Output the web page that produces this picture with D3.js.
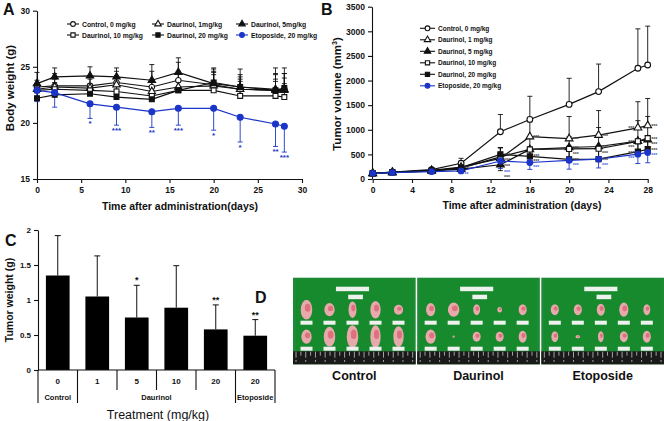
<!DOCTYPE html>
<html><head><meta charset="utf-8">
<script src="https://cdn.jsdelivr.net/npm/d3@7"></script>
<style>
body{margin:0;background:#fff;}
svg{display:block;font-family:"Liberation Sans",Arial,sans-serif;}
</style></head><body>
<svg id="c" width="664" height="421"></svg>
<script>
// ---------- Panel A: body weight ----------
const daysA = [0, 2, 6, 9, 13, 16, 20, 23, 27, 28];
const seriesLabelsA = ["Control, 0 mg/kg", "Daurinol, 1mg/kg", "Daurinol, 5mg/kg", "Daurinol, 10 mg/kg", "Daurinol, 20 mg/kg", "Etoposide, 20 mg/kg"];
const bwControl = [23.2, 23.3, 23.3, 23.6, 23.2, 23.8, 23.4, 23.0, 22.9, 23.0];
const bwD1 = [23.0, 23.2, 23.1, 23.4, 22.8, 23.2, 23.3, 23.0, 22.9, 22.9];
const bwD5 = [23.5, 24.1, 24.2, 24.1, 23.8, 24.5, 23.5, 23.2, 23.0, 23.0];
const bwD10 = [22.9, 23.0, 22.9, 22.8, 22.4, 22.9, 22.9, 22.4, 22.4, 22.3];
const bwD20 = [22.2, 22.5, 22.6, 22.3, 22.1, 22.9, 23.6, 23.2, 22.9, 23.1];
const bwEto = [22.9, 22.7, 21.7, 21.4, 21.0, 21.3, 21.3, 20.5, 19.9, 19.7];
const bwControlErr = [0.6, 1.1, 0.9, 1.0, 1.4, 1.6, 1.4, 0.9, 1.5, 1.4];
const bwD1Err = [0.5, 0.7, 0.8, 0.8, 1.0, 1.4, 1.0, 1.3, 1.4, 1.5];
const bwD5Err = [1.0, 0.8, 0.8, 0.8, 1.4, 1.3, 1.0, 1.6, 1.9, 1.9];
const bwD10Err = [0.4, 0.6, 0.6, 0.6, 0.9, 0.8, 2.0, 1.3, 1.3, 1.2];
const bwD20Err = [0.5, 0.6, 0.6, 0.7, 0.8, 0.7, 1.0, 0.9, 1.0, 0.9];
const bwEtoErr = [1.0, 1.3, 1.3, 1.6, 1.4, 1.5, 1.95, 2.2, 2.0, 2.3];
const bwEtoStars = ["", "", "*", "***", "**", "***", "*", "*", "**", "***"];
const ticksA_x = [0, 5, 10, 15, 20, 25, 30];
const ticksA_y = [15, 20, 25, 30];

// ---------- Panel B: tumor volume ----------
const daysB = [0, 2, 6, 9, 13, 16, 20, 23, 27, 28];
const seriesLabelsB = ["Control, 0 mg/kg", "Daurinol, 1 mg/kg", "Daurinol, 5 mg/kg", "Daurinol, 10 mg/kg", "Daurinol, 20 mg/kg", "Etoposide, 20 mg/kg"];
const tvControl = [115, 140, 190, 320, 960, 1210, 1515, 1775, 2250, 2315];
const tvD1 = [115, 135, 175, 240, 420, 860, 820, 890, 1040, 1085];
const tvD5 = [115, 135, 165, 200, 290, 600, 640, 660, 770, 800];
const tvD10 = [115, 140, 170, 220, 450, 600, 610, 615, 765, 830];
const tvD20 = [115, 135, 160, 230, 500, 460, 400, 405, 555, 605];
const tvEto = [115, 130, 150, 165, 365, 335, 380, 405, 505, 540];
const tvControlErr = [15, 20, 40, 100, 350, 470, 530, 560, 800, 790];
const tvD1Err = [15, 20, 30, 50, 220, 300, 450, 500, 530, 550];
const tvD5Err = [15, 20, 30, 50, 120, 250, 250, 250, 260, 270];
const tvD10Err = [15, 20, 30, 50, 180, 220, 250, 430, 420, 440];
const tvD20Err = [15, 20, 30, 40, 140, 150, 180, 200, 250, 250];
const tvEtoErr = [15, 20, 25, 40, 150, 140, 180, 180, 190, 210];
const tvD1Stars = ["", "", "", "", "***", "***", "***", "***", "***", "***"];
const tvD5Stars = ["", "", "", "", "***", "***", "***", "***", "***", "***"];
const tvD10Stars = ["", "", "", "", "***", "***", "***", "***", "***", "***"];
const tvD20Stars = ["", "", "", "**", "***", "***", "***", "***", "***", "***"];
const tvEtoStars = ["", "", "", "**", "***", "***", "***", "***", "***", "***"];
const ticksB_x = [0, 4, 8, 12, 16, 20, 24, 28];
const ticksB_y = [0, 500, 1000, 1500, 2000, 2500, 3000, 3500];

// ---------- Panel C: tumor weight ----------
const twDose = ["0", "1", "5", "10", "20", "20"];
const twMean = [1.35, 1.05, 0.75, 0.89, 0.58, 0.49];
const twErr = [0.57, 0.58, 0.46, 0.60, 0.35, 0.23];
const twStars = ["", "", "*", "", "**", "**"];
const twGroupNames = ["Control", "Daurinol", "Etoposide"];
const twGroupFirst = [0, 1, 5];
const twGroupLast = [0, 4, 5];
const ticksC_y = [0, 0.5, 1, 1.5, 2];

// ---------- Panel D: photos ----------
const photoGroups = ["Control", "Daurinol", "Etoposide"];
const tumorW = [
  [10, 9, 7, 9, 8, 9, 10, 10, 9, 9],
  [8, 10, 6, 4, 7, 9, 2, 7, 7, 7],
  [7, 7, 7, 8, 6, 6, 4, 5, 7, 7]];
const tumorH = [
  [18, 12, 15, 16, 9, 13, 18, 21, 21, 19],
  [12, 13, 10, 5, 10, 13, 2, 9, 9, 11],
  [10, 10, 11, 13, 10, 10, 3, 10, 10, 11]];

const BLACK = "#111", BLUE = "#1b35c8";
const svg = d3.select("#c");
svg.append("rect").attr("width", 664).attr("height", 421).attr("fill", "#fff");

const shapeOf = {
  circle: d3.symbolCircle, triangle: d3.symbolTriangle, square: d3.symbolSquare
};
function marker(g, kind, filled, color, x, y, size) {
  g.append("path")
    .attr("d", d3.symbol().type(shapeOf[kind]).size(size)())
    .attr("transform", `translate(${x},${y})`)
    .attr("fill", filled ? color : "#fff")
    .attr("stroke", color).attr("stroke-width", 1.1);
}
function styleAxis(g, fs) {
  g.selectAll("path,line").attr("stroke", BLACK).attr("stroke-width", 1.1);
  g.selectAll("text").attr("font-size", fs).attr("font-weight", "bold")
    .attr("fill", BLACK).attr("font-family", "Liberation Sans, Arial, sans-serif");
}
function panelLetter(t, x, y) {
  svg.append("text").attr("x", x).attr("y", y).text(t)
    .attr("font-size", 16).attr("font-weight", "bold").attr("fill", BLACK);
}

// ===== Panel A =====
{
  const x = d3.scaleLinear().domain([0, 30]).range([37, 302]);
  const y = d3.scaleLinear().domain([15, 30]).range([179, 10.7]);
  const g = svg.append("g");
  const ax = g.append("g").attr("transform", "translate(0,179)")
    .call(d3.axisBottom(x).tickValues(ticksA_x).tickSize(4).tickSizeOuter(0).tickPadding(4));
  styleAxis(ax, 8.5);
  const ay = g.append("g").attr("transform", "translate(37,0)")
    .call(d3.axisLeft(y).tickValues(ticksA_y).tickSize(4).tickSizeOuter(0).tickPadding(3));
  styleAxis(ay, 8.5);

  const series = [
    {v: bwControl, e: bwControlErr, k: "circle", f: false, c: BLACK, s: 24, dir: 1},
    {v: bwD1, e: bwD1Err, k: "triangle", f: false, c: BLACK, s: 24, dir: 1},
    {v: bwD5, e: bwD5Err, k: "triangle", f: true, c: BLACK, s: 24, dir: 1},
    {v: bwD10, e: bwD10Err, k: "square", f: false, c: BLACK, s: 24, dir: 1},
    {v: bwD20, e: bwD20Err, k: "square", f: true, c: BLACK, s: 24, dir: 1},
    {v: bwEto, e: bwEtoErr, k: "circle", f: true, c: BLUE, s: 28, dir: -1}
  ];
  const line = d3.line().x((d, i) => x(daysA[i])).y(d => y(d));
  series.forEach(s => {
    daysA.forEach((d, i) => {
      const y0 = y(s.v[i]), y1 = y(s.v[i] + s.dir * s.e[i]);
      g.append("line").attr("x1", x(d)).attr("x2", x(d)).attr("y1", y0).attr("y2", y1)
        .attr("stroke", s.c).attr("stroke-width", 0.9);
      g.append("line").attr("x1", x(d) - 2.5).attr("x2", x(d) + 2.5).attr("y1", y1).attr("y2", y1)
        .attr("stroke", s.c).attr("stroke-width", 0.9);
    });
  });
  series.forEach(s => {
    g.append("path").attr("d", line(s.v)).attr("fill", "none").attr("stroke", s.c).attr("stroke-width", 1.2);
  });
  series.forEach(s => {
    s.v.forEach((v, i) => marker(g, s.k, s.f, s.c, x(daysA[i]), y(v), s.s));
  });
  bwEtoStars.forEach((t, i) => {
    if (!t) return;
    g.append("text").attr("x", x(daysA[i])).attr("y", y(bwEto[i] - bwEtoErr[i]) + 8)
      .attr("text-anchor", "middle").attr("font-size", 8).attr("font-weight", "bold")
      .attr("fill", BLUE).text(t);
  });
  const colX = [67, 152, 236];
  const rowY = [24, 35];
  series.forEach((s, i) => {
    const cx = colX[i % 3], cy = rowY[Math.floor(i / 3)];
    g.append("line").attr("x1", cx).attr("x2", cx + 12).attr("y1", cy).attr("y2", cy)
      .attr("stroke", s.c).attr("stroke-width", 1.1);
    marker(g, s.k, s.f, s.c, cx + 6, cy, 18);
    g.append("text").attr("x", cx + 15).attr("y", cy + 2.6).text(seriesLabelsA[i])
      .attr("font-size", 6.8).attr("font-weight", "bold").attr("fill", BLACK);
  });
  g.append("text").attr("x", 180).attr("y", 210).attr("text-anchor", "middle")
    .attr("font-size", 10.5).attr("font-weight", "bold").attr("fill", BLACK)
    .text("Time after administration(days)");
  g.append("text").attr("transform", "translate(14,88) rotate(-90)").attr("text-anchor", "middle")
    .attr("font-size", 11.5).attr("font-weight", "bold").attr("fill", BLACK).text("Body weight (g)");
  panelLetter("A", 3, 15);
}

// ===== Panel B =====
{
  const x = d3.scaleLinear().domain([0, 28]).range([372.7, 647.7]);
  const y = d3.scaleLinear().domain([0, 3500]).range([179, 6.7]);
  const g = svg.append("g");
  const ax = g.append("g").attr("transform", "translate(0,179)")
    .call(d3.axisBottom(x).tickValues(ticksB_x).tickSize(4).tickSizeOuter(0).tickPadding(4));
  styleAxis(ax, 8.5);
  const ay = g.append("g").attr("transform", "translate(372,0)")
    .call(d3.axisLeft(y).tickValues(ticksB_y).tickFormat(d3.format("d")).tickSize(4).tickSizeOuter(0).tickPadding(3));
  styleAxis(ay, 8.5);

  const series = [
    {v: tvControl, e: tvControlErr, st: null, k: "circle", f: false, c: BLACK, dir: 1},
    {v: tvD1, e: tvD1Err, st: tvD1Stars, k: "triangle", f: false, c: BLACK, dir: 1},
    {v: tvD5, e: tvD5Err, st: tvD5Stars, k: "triangle", f: true, c: BLACK, dir: -1},
    {v: tvD10, e: tvD10Err, st: tvD10Stars, k: "square", f: false, c: BLACK, dir: 1},
    {v: tvD20, e: tvD20Err, st: tvD20Stars, k: "square", f: true, c: BLACK, dir: 1},
    {v: tvEto, e: tvEtoErr, st: tvEtoStars, k: "circle", f: true, c: BLUE, dir: -1}
  ];
  const line = d3.line().x((d, i) => x(daysB[i])).y(d => y(d));
  series.forEach(s => {
    daysB.forEach((d, i) => {
      const y0 = y(s.v[i]), y1 = y(s.v[i] + s.dir * s.e[i]);
      g.append("line").attr("x1", x(d)).attr("x2", x(d)).attr("y1", y0).attr("y2", y1)
        .attr("stroke", s.c).attr("stroke-width", 0.9);
      g.append("line").attr("x1", x(d) - 2.5).attr("x2", x(d) + 2.5).attr("y1", y1).attr("y2", y1)
        .attr("stroke", s.c).attr("stroke-width", 0.9);
    });
  });
  series.forEach(s => {
    g.append("path").attr("d", line(s.v)).attr("fill", "none").attr("stroke", s.c).attr("stroke-width", 1.2);
  });
  series.forEach(s => {
    s.v.forEach((v, i) => marker(g, s.k, s.f, s.c, x(daysB[i]), y(v), 26));
  });
  // significance stars, stacked per day so they do not overlap
  daysB.forEach((d, i) => {
    const labels = series.filter(s => s.st && s.st[i]).map(s => ({t: s.st[i], y: y(s.v[i]) + 2.5, c: s.c}));
    labels.sort((a, b) => a.y - b.y);
    for (let k = 1; k < labels.length; k++) {
      if (labels[k].y - labels[k - 1].y < 5.6) labels[k].y = labels[k - 1].y + 5.6;
    }
    const left = i === 8;
    labels.forEach(L => {
      g.append("text").attr("x", x(d) + (left ? -3.5 : 3.5)).attr("y", L.y)
        .attr("text-anchor", left ? "end" : "start")
        .attr("font-size", 5.2).attr("font-weight", "bold")
        .attr("fill", L.c === BLUE ? "#4a66dd" : "#444").text(L.t);
    });
  });
  const rowY = [28.3, 39.8, 51.3, 62.8, 74.3, 85.8];
  series.forEach((s, i) => {
    const cy = rowY[i];
    g.append("line").attr("x1", 420).attr("x2", 435).attr("y1", cy).attr("y2", cy)
      .attr("stroke", s.c).attr("stroke-width", 1.1);
    marker(g, s.k, s.f, s.c, 427.5, cy, 18);
    g.append("text").attr("x", 438).attr("y", cy + 2.5).text(seriesLabelsB[i])
      .attr("font-size", 6.5).attr("font-weight", "bold").attr("fill", BLACK);
  });
  g.append("text").attr("x", 522).attr("y", 209).attr("text-anchor", "middle")
    .attr("font-size", 10.5).attr("font-weight", "bold").attr("fill", BLACK)
    .text("Time after administration (days)");
  const yt = g.append("text").attr("transform", "translate(341,94) rotate(-90)").attr("text-anchor", "middle")
    .attr("font-size", 11.5).attr("font-weight", "bold").attr("fill", BLACK);
  yt.append("tspan").text("Tumor volume (mm");
  yt.append("tspan").attr("font-size", 7).attr("dy", -4).text("3");
  yt.append("tspan").attr("dy", 4).text(")");
  panelLetter("B", 321, 15);
}

// ===== Panel C =====
{
  const x = d3.scaleBand().domain(d3.range(twMean.length)).range([38, 275]).paddingInner(0.4).paddingOuter(0.2);
  const y = d3.scaleLinear().domain([0, 2]).range([370, 230]);
  const g = svg.append("g");
  const ay = g.append("g").attr("transform", "translate(38,0)")
    .call(d3.axisLeft(y).tickValues(ticksC_y).tickFormat(d3.format("~g")).tickSize(4).tickSizeOuter(0).tickPadding(3));
  styleAxis(ay, 8);
  twMean.forEach((v, i) => {
    const cx = x(i) + x.bandwidth() / 2;
    const top = y(v + twErr[i]);
    g.append("line").attr("x1", cx).attr("x2", cx).attr("y1", y(v)).attr("y2", top)
      .attr("stroke", BLACK).attr("stroke-width", 1);
    g.append("line").attr("x1", cx - 3).attr("x2", cx + 3).attr("y1", top).attr("y2", top)
      .attr("stroke", BLACK).attr("stroke-width", 1);
    g.append("rect").attr("x", x(i)).attr("y", y(v)).attr("width", x.bandwidth())
      .attr("height", y(0) - y(v)).attr("fill", "#000");
    if (twStars[i]) g.append("text").attr("x", cx).attr("y", top - 2).attr("text-anchor", "middle")
      .attr("font-size", 9).attr("font-weight", "bold").attr("fill", BLACK).text(twStars[i]);
    g.append("text").attr("x", cx).attr("y", 384).attr("text-anchor", "middle")
      .attr("font-size", 8).attr("font-weight", "bold").attr("fill", BLACK).text(twDose[i]);
  });
  const step = x.step();
  const x0 = 38;
  g.append("line").attr("x1", x0).attr("x2", 275).attr("y1", 370).attr("y2", 370).attr("stroke", BLACK).attr("stroke-width", 1.1);
  g.append("line").attr("x1", x0).attr("x2", x0).attr("y1", 370).attr("y2", 403).attr("stroke", BLACK).attr("stroke-width", 1.1);
  d3.range(1, twMean.length + 1).forEach(i => {
    const bx = x0 + step * i;
    const isGroupEdge = twGroupLast.includes(i - 1);
    g.append("line").attr("x1", bx).attr("x2", bx).attr("y1", 370).attr("y2", isGroupEdge ? 403 : 390)
      .attr("stroke", BLACK).attr("stroke-width", 1.1);
  });
  twGroupNames.forEach((n, j) => {
    const cx = x0 + step * (twGroupFirst[j] + twGroupLast[j] + 1) / 2;
    g.append("text").attr("x", cx).attr("y", 400).attr("text-anchor", "middle")
      .attr("font-size", 7.5).attr("font-weight", "bold").attr("fill", BLACK).text(n);
  });
  g.append("text").attr("x", 158).attr("y", 419).attr("text-anchor", "middle")
    .attr("font-size", 12.5).attr("fill", BLACK).text("Treatment (mg/kg)");
  g.append("text").attr("transform", "translate(13,300) rotate(-90)").attr("text-anchor", "middle")
    .attr("font-size", 10.5).attr("font-weight", "bold").attr("fill", BLACK).text("Tumor weight (g)");
  panelLetter("C", 5, 246);
}

// ===== Panel D =====
{
  const px = d3.scaleBand().domain(photoGroups).range([293, 664]).paddingInner(0.012).paddingOuter(0);
  const top = 277.7, H = 86.6;
  const g = svg.append("g");
  photoGroups.forEach((name, gi) => {
    const X = px(name), W = px.bandwidth();
    const pg = g.append("g").attr("transform", `translate(${X},${top})`);
    pg.append("rect").attr("width", W).attr("height", H).attr("fill", "#1e8a35");
    pg.append("rect").attr("x", W * 0.025).attr("y", 2).attr("width", W * 0.95).attr("height", H - 4).attr("fill", "#168a2c");
    pg.append("rect").attr("x", W * 0.35).attr("y", 9).attr("width", W * 0.27).attr("height", 4.5).attr("fill", "#eef2ee");
    pg.append("rect").attr("x", W * 0.45).attr("y", 17).attr("width", W * 0.12).attr("height", 4.5).attr("fill", "#eef2ee");
    const cols = d3.scalePoint().domain(d3.range(5)).range([W * 0.11, W * 0.86]);
    [0, 1].forEach(r => {
      const cy = r === 0 ? 32 : 59;
      const ly = r === 0 ? 43 : 69;
      d3.range(5).forEach(c => {
        const k = r * 5 + c;
        const tw = tumorW[gi][k] * 1.15, th = tumorH[gi][k] * 1.1;
        pg.append("ellipse").attr("cx", cols(c)).attr("cy", cy).attr("rx", tw / 2).attr("ry", th / 2)
          .attr("fill", "#e7a9ab");
        pg.append("ellipse").attr("cx", cols(c) + tw * 0.1).attr("cy", cy - th * 0.1).attr("rx", tw / 4).attr("ry", th / 5)
          .attr("fill", "#d9425a").attr("opacity", 0.55);
        pg.append("rect").attr("x", cols(c) - 6).attr("y", ly).attr("width", 12).attr("height", 4)
          .attr("fill", "#eef2ee");
      });
    });
    pg.append("rect").attr("x", 0).attr("y", 73.6).attr("width", W).attr("height", H - 73.6).attr("fill", "#1a1a1a");
    d3.range(0, 25).forEach(t => {
      const tx = 3 + t * (W - 6) / 24;
      pg.append("line").attr("x1", tx).attr("x2", tx).attr("y1", 74).attr("y2", t % 2 ? 78 : 80)
        .attr("stroke", "#ddd").attr("stroke-width", 0.7);
      if (t % 2 === 0) pg.append("rect").attr("x", tx - 0.5).attr("y", 82.5).attr("width", 1).attr("height", 1.5).attr("fill", "#ccc");
    });
    g.append("text").attr("x", X + W / 2).attr("y", 379.5).attr("text-anchor", "middle")
      .attr("font-size", 12.5).attr("font-weight", "bold").attr("fill", BLACK).text(name);
  });
  panelLetter("D", 255, 303);
}
</script>
</body></html>
